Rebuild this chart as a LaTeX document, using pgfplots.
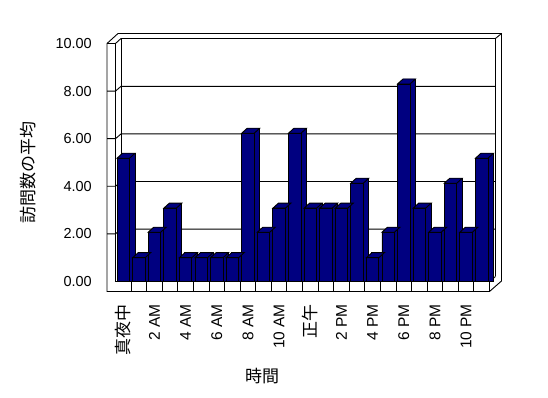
\documentclass[border=0pt]{standalone}
\usepackage{fontspec}
\setmainfont{Liberation Sans}
\newfontfamily\jp{Noto Sans CJK JP}
\usepackage{pgfplots}
\usepackage{pgfplotstable}
\pgfplotsset{compat=1.18}
\definecolor{navyc}{RGB}{0,0,128}
\newcommand{\jpfont}{\jp\fontsize{17bp}{19bp}\selectfont}
\pgfdeclareplotmark{topface}{%
  \pgfpathmoveto{\pgfqpoint{-6.25bp}{0bp}}%
  \pgfpathlineto{\pgfqpoint{6.25bp}{0bp}}%
  \pgfpathlineto{\pgfqpoint{11.75bp}{5bp}}%
  \pgfpathlineto{\pgfqpoint{-0.75bp}{5bp}}%
  \pgfpathclose
  \pgfusepathqfillstroke}
\pgfplotstableread{
h v
0 5.18
1 1.00
2 2.07
3 3.08
4 1.00
5 1.00
6 1.00
7 1.00
8 6.23
9 2.07
10 3.08
11 6.23
12 3.08
13 3.08
14 3.08
15 4.13
16 1.00
17 2.07
18 8.30
19 3.08
20 2.07
21 4.13
22 2.07
23 5.18
}\visits
\begin{document}
\begin{tikzpicture}
\useasboundingbox (0,0) rectangle (548bp,398bp);
\begin{scope}[x=1bp,y=1bp,yshift=398bp,yscale=-1,line width=0.9bp,line join=miter]
  % outer silhouette
  \draw (107,291.5) -- (107,43.5) -- (118,33.5) -- (501.5,33.5) -- (501.5,281) -- (489.5,291.5) -- cycle;
  % left wall
  \draw (107,43.5) -- (115.5,43.5) -- (121,38.5);
  \draw (115.5,43.5) -- (115.5,281.5) -- (489.5,281.5);
  % back wall inner face
  \draw (121,276.5) -- (121,38.5) -- (495.5,38.5) -- (495.5,276.5);
  \draw (495.5,38.5) -- (501.5,33.5);
  \draw (489.5,281.5) -- (495.5,276.5);
  \draw (489.5,281.5) -- (489.5,291.5);
  % grid lines
  \foreach \v in {2,4,6,8} {
    \draw (107,{281.5-23.8*\v}) -- (115.5,{281.5-23.8*\v}) -- (121,{281.5-23.8*\v-4.75}) -- (495.5,{281.5-23.8*\v-4.75});
  }
  % floor dividers
  \foreach \k in {1,...,23} {
    \draw ({115.5+15.5833*\k},281.5) -- ({115.5+15.5833*\k},291.5);
  }
\end{scope}
\begin{axis}[
  at={(115.5bp,116.5bp)}, anchor=south west,
  scale only axis, width=374bp, height=238bp,
  xmin=-0.5, xmax=23.5, ymin=0, ymax=10,
  clip=false,
  axis line style={draw=none},
  major tick length=0pt,
  ytick={0,2,...,10},
  xtick={0,2,...,22},
  xticklabels={{\jpfont 真夜中},2 AM,4 AM,6 AM,8 AM,10 AM,{\jpfont 正午},2 PM,4 PM,6 PM,8 PM,10 PM},
  xticklabel style={font=\fontsize{15.5bp}{17bp}\selectfont, rotate=90, anchor=east, inner sep=0pt, xshift=-1.5bp},
  xticklabel shift=21bp,
  yticklabel style={font=\fontsize{14.5bp}{16bp}\selectfont, anchor=east, inner sep=0pt,
    /pgf/number format/fixed, /pgf/number format/fixed zerofill,
    /pgf/number format/precision=2, /pgf/number format/assume math mode=true},
  yticklabel shift=23.5bp,
]
\addplot[ybar, bar width=12.5bp, bar shift=5.5bp, fill=navyc, draw=black, line width=0.9bp]
  table[x=h, y expr=\thisrow{v}+0.21] {\visits};
\addplot[only marks, mark=topface, mark options={fill=navyc, draw=black, line width=0.9bp}]
  table[x=h, y=v] {\visits};
\addplot[ybar, bar width=12.5bp, bar shift=0pt, fill=navyc, draw=black, line width=0.9bp]
  table[x=h, y=v] {\visits};
\end{axis}
\node[rotate=90, font=\jpfont] at (28bp,225bp) {訪問数の平均};
\node[font=\jpfont] at (262bp,22bp) {時間};
\end{tikzpicture}
\end{document}
